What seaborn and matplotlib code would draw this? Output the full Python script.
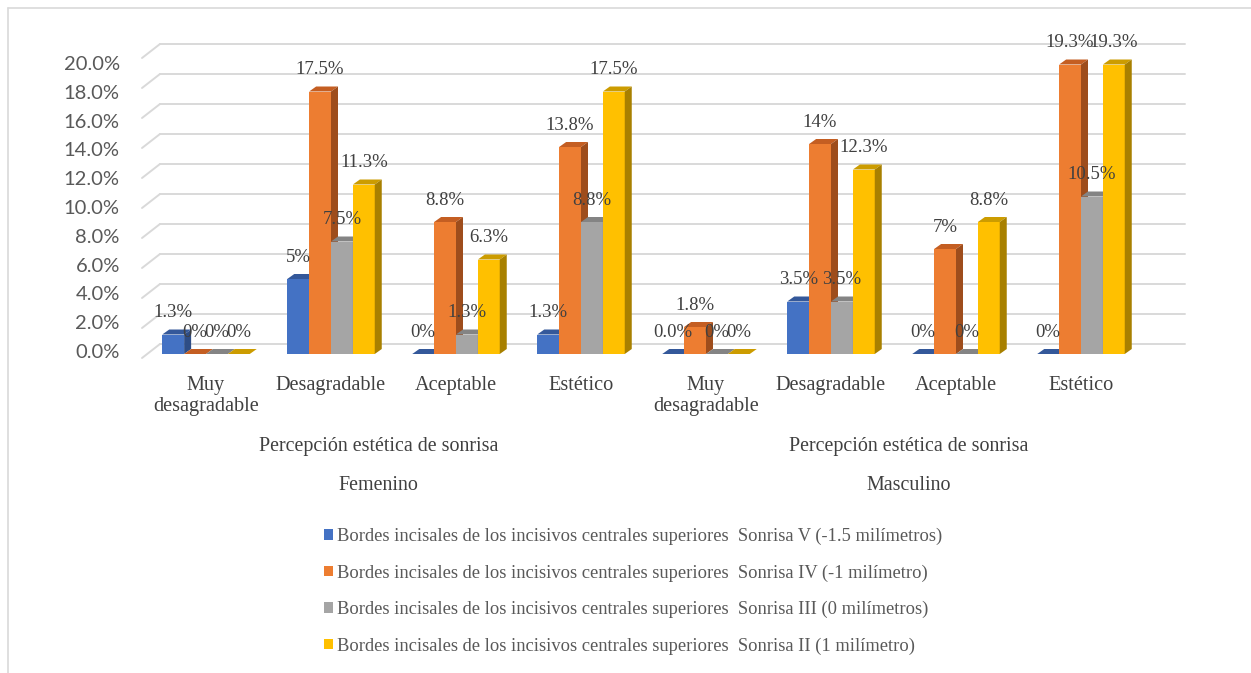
#Bar chart (Excel style 3D look) of smile perception by sex and smile type.

import numpy as np
import pandas as pd
import seaborn as sns
import matplotlib
matplotlib.use("Agg")
from matplotlib import pyplot as plt
from matplotlib.patches import Polygon, Rectangle
from matplotlib.lines import Line2D
import matplotlib.transforms as mtransforms

#Data (fractions), one list per smile type, 8 slots (4 Femenino + 4 Masculino)

categorias = ["Muy\ndesagradable", "Desagradable", "Aceptable", "Estético"]
grupos = ["Femenino", "Masculino"]
series = ["Bordes incisales de los incisivos centrales superiores  Sonrisa V (-1.5 milímetros)",
          "Bordes incisales de los incisivos centrales superiores  Sonrisa IV (-1 milímetro)",
          "Bordes incisales de los incisivos centrales superiores  Sonrisa III (0 milímetros)",
          "Bordes incisales de los incisivos centrales superiores  Sonrisa II (1 milímetro)"]

sonrisa_v = [0.013, 0.05, 0.0, 0.013, 0.0, 0.035, 0.0, 0.0]
sonrisa_iv = [0.0, 0.175, 0.088, 0.138, 0.018, 0.14, 0.07, 0.193]
sonrisa_iii = [0.0, 0.075, 0.013, 0.088, 0.0, 0.035, 0.0, 0.105]
sonrisa_ii = [0.0, 0.113, 0.063, 0.175, 0.0, 0.123, 0.088, 0.193]

etiq_v = ["1.3%", "5%", "0%", "1.3%", "0.0%", "3.5%", "0%", "0%"]
etiq_iv = ["0%", "17.5%", "8.8%", "13.8%", "1.8%", "14%", "7%", "19.3%"]
etiq_iii = ["0%", "7.5%", "1.3%", "8.8%", "0%", "3.5%", "0%", "10.5%"]
etiq_ii = ["0%", "11.3%", "6.3%", "17.5%", "0%", "12.3%", "8.8%", "19.3%"]

ticks_y = [0.0, 0.02, 0.04, 0.06, 0.08, 0.10, 0.12, 0.14, 0.16, 0.18, 0.20]

colores = ["#4472C4", "#ED7D31", "#A5A5A5", "#FFC000"]
techos = ["#34589A", "#C45E22", "#848484", "#CC9C00"]
lados = ["#2E4D86", "#9E4D1C", "#787878", "#A88000"]

slots = [g + "|" + c for g in grupos for c in categorias]
df = pd.DataFrame({
    "slot": slots * 4,
    "serie": np.repeat(series, len(slots)),
    "valor": sonrisa_v + sonrisa_iv + sonrisa_iii + sonrisa_ii,
})
etiquetas = [etiq_v, etiq_iv, etiq_iii, etiq_ii]

sns.set_style("white")
plt.rcParams['font.family'] = ['Liberation Serif', 'DejaVu Serif']

W, H = 1251, 673
fig = plt.figure(figsize=(W / 100, H / 100), dpi=100)

#axes placed in pixels: front plane of the bars, 0% at y=354, 20% at y=54
ax_l, ax_r, ax_t, ax_b = 142, 1185, 54, 354
ax = fig.add_axes([ax_l / W, 1 - ax_b / H, (ax_r - ax_l) / W, (ax_b - ax_t) / H])

sns.barplot(data=df, x="slot", y="valor", hue="serie", order=slots, hue_order=series,
            palette=colores, width=0.7, saturation=1, errorbar=None, legend=False, ax=ax)

paso = 125.0
x_izq = -(206 - ax_l) / paso
x_der = x_izq + (ax_r - ax_l) / paso
ax.set_xlim(x_izq, x_der)
ax.set_ylim(0, 0.2)
ax.set_xticks([])
ax.set_yticks([])
ax.set_xlabel("")
ax.set_ylabel("")
for s in ax.spines.values():
    s.set_visible(False)
ax.patch.set_alpha(0)

#pixel -> data units
px = (x_der - x_izq) / (ax_r - ax_l)
py = 0.2 / (ax_b - ax_t)

#back wall gridlines with diagonal to the front
x_fondo = x_izq + 18 * px
for v in ticks_y:
    ax.plot([x_fondo, x_der], [v + 10 * py, v + 10 * py], color="#D9D9D9", lw=1.4, zorder=1, clip_on=False)
    ax.plot([x_izq, x_fondo], [v - 4 * py, v + 10 * py], color="#D9D9D9", lw=1.4, zorder=1, clip_on=False)

#3D faces and value labels
dx, dy = 7 * px, 5 * py
for k, cont in enumerate(ax.containers):
    for j, p in enumerate(cont.patches):
        x0, w, h = p.get_x(), p.get_width(), p.get_height()
        p.set_zorder(3 + k)
        p.set_edgecolor("none")
        ax.add_patch(Polygon([(x0, h), (x0 + w, h), (x0 + w + dx, h + dy), (x0 + dx, h + dy)],
                             closed=True, facecolor=techos[k], edgecolor="none", zorder=3 + k, clip_on=False))
        ax.add_patch(Polygon([(x0 + w, 0), (x0 + w, h), (x0 + w + dx, h + dy), (x0 + w + dx, dy)],
                             closed=True, facecolor=lados[k], edgecolor="none", zorder=3 + k, clip_on=False))
        ax.annotate(etiquetas[k][j], xy=(x0 + w / 2, h), xytext=(0, 15.8), textcoords="offset points",
                    ha="center", va="center", fontsize=13.5, color="#404040", zorder=20,
                    annotation_clip=False)

#y tick labels on their own plane (slightly different scale in the original)
ax_ticks = fig.add_axes(ax.get_position())
ax_ticks.set_ylim(-3 * 0.2 / 288, 0.2 + 9 * 0.2 / 288)
ax_ticks.set_yticks(ticks_y)
ax_ticks.set_yticklabels([f"{v * 100:.1f}%" for v in ticks_y], family=['Lato', 'DejaVu Sans'],
                         fontsize=14.5, color="#595959")
ax_ticks.tick_params(axis="y", length=0, pad=16)
ax_ticks.set_xticks([])
for s in ax_ticks.spines.values():
    s.set_visible(False)
ax_ticks.patch.set_alpha(0)

#category labels, group labels
bl = mtransforms.blended_transform_factory(ax.transData, fig.transFigure)
for i, s in enumerate(slots):
    fig.text(i, 1 - 376 / H, s.split("|")[1], transform=bl, ha="center", va="top",
             fontsize=14.6, color="#404040", linespacing=1.15)
for g, xc in zip(grupos, [1.38, 5.62]):
    fig.text(xc, 1 - 447 / H, "Percepción estética de sonrisa", transform=bl, ha="center", va="center",
             fontsize=14.4, color="#404040")
    fig.text(xc, 1 - 486 / H, g, transform=bl, ha="center", va="center", fontsize=14.4, color="#404040")

#legend
handles = [Rectangle((0, 0), 1, 1, facecolor=c, edgecolor="none") for c in colores]
fig.legend(handles, series, loc="upper left", bbox_to_anchor=(324 / W, 1 - 528 / H), frameon=False,
           fontsize=13.35, labelcolor="#595959", handlelength=0.5, handleheight=0.5,
           handletextpad=0.2, labelspacing=1.03, borderpad=0, borderaxespad=0)

#chart frame
fig.add_artist(Line2D([7.5 / W, 7.5 / W], [0, 1 - 7.5 / H], color="#D9D9D9", lw=1.2, transform=fig.transFigure))
fig.add_artist(Line2D([7.5 / W, 1], [1 - 7.5 / H, 1 - 7.5 / H], color="#D9D9D9", lw=1.2, transform=fig.transFigure))

fig.savefig("out.png", dpi=100, facecolor="white")
